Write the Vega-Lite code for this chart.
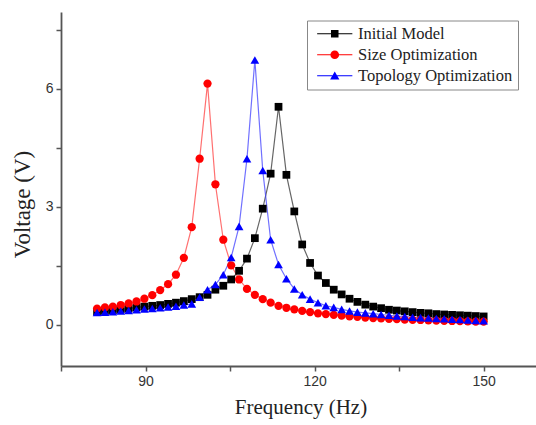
{
  "$schema": "https://vega.github.io/schema/vega-lite/v6.json",
  "width": 479,
  "height": 354,
  "autosize": {"type": "none"},
  "padding": {"left": 61, "top": 12, "right": 0, "bottom": 59},
  "background": "white",
  "data": {"values": [
    {"s":"Initial Model","f":81.4,"v":0.33},{"s":"Initial Model","f":82.8,"v":0.35},{"s":"Initial Model","f":84.2,"v":0.37},{"s":"Initial Model","f":85.6,"v":0.39},{"s":"Initial Model","f":87.0,"v":0.41},{"s":"Initial Model","f":88.4,"v":0.44},{"s":"Initial Model","f":89.8,"v":0.46},{"s":"Initial Model","f":91.2,"v":0.48},{"s":"Initial Model","f":92.6,"v":0.50},{"s":"Initial Model","f":94.0,"v":0.53},
    {"s":"Initial Model","f":95.4,"v":0.56},{"s":"Initial Model","f":96.8,"v":0.60},{"s":"Initial Model","f":98.2,"v":0.65},{"s":"Initial Model","f":99.6,"v":0.70},{"s":"Initial Model","f":101.0,"v":0.76},{"s":"Initial Model","f":102.4,"v":0.89},{"s":"Initial Model","f":103.8,"v":0.99},{"s":"Initial Model","f":105.2,"v":1.15},{"s":"Initial Model","f":106.6,"v":1.37},{"s":"Initial Model","f":108.0,"v":1.68},
    {"s":"Initial Model","f":109.4,"v":2.20},{"s":"Initial Model","f":110.8,"v":2.95},{"s":"Initial Model","f":112.2,"v":3.84},{"s":"Initial Model","f":113.6,"v":5.54},{"s":"Initial Model","f":115.0,"v":3.81},{"s":"Initial Model","f":116.4,"v":2.88},{"s":"Initial Model","f":117.8,"v":2.04},{"s":"Initial Model","f":119.2,"v":1.57},{"s":"Initial Model","f":120.6,"v":1.25},{"s":"Initial Model","f":122.0,"v":1.06},
    {"s":"Initial Model","f":123.4,"v":0.89},{"s":"Initial Model","f":124.8,"v":0.77},{"s":"Initial Model","f":126.2,"v":0.66},{"s":"Initial Model","f":127.6,"v":0.58},{"s":"Initial Model","f":129.0,"v":0.51},{"s":"Initial Model","f":130.4,"v":0.46},{"s":"Initial Model","f":131.8,"v":0.42},{"s":"Initial Model","f":133.2,"v":0.38},{"s":"Initial Model","f":134.6,"v":0.36},{"s":"Initial Model","f":136.0,"v":0.34},
    {"s":"Initial Model","f":137.4,"v":0.32},{"s":"Initial Model","f":138.8,"v":0.30},{"s":"Initial Model","f":140.2,"v":0.29},{"s":"Initial Model","f":141.6,"v":0.27},{"s":"Initial Model","f":143.0,"v":0.26},{"s":"Initial Model","f":144.4,"v":0.25},{"s":"Initial Model","f":145.8,"v":0.24},{"s":"Initial Model","f":147.2,"v":0.23},{"s":"Initial Model","f":148.6,"v":0.22},{"s":"Initial Model","f":150.0,"v":0.21},
    {"s":"Size Optimization","f":81.4,"v":0.41},{"s":"Size Optimization","f":82.8,"v":0.44},{"s":"Size Optimization","f":84.2,"v":0.46},{"s":"Size Optimization","f":85.6,"v":0.50},{"s":"Size Optimization","f":87.0,"v":0.54},{"s":"Size Optimization","f":88.4,"v":0.59},{"s":"Size Optimization","f":89.8,"v":0.66},{"s":"Size Optimization","f":91.2,"v":0.75},{"s":"Size Optimization","f":92.6,"v":0.88},{"s":"Size Optimization","f":94.0,"v":1.03},
    {"s":"Size Optimization","f":95.4,"v":1.27},{"s":"Size Optimization","f":96.8,"v":1.70},{"s":"Size Optimization","f":98.2,"v":2.48},{"s":"Size Optimization","f":99.6,"v":4.22},{"s":"Size Optimization","f":101.0,"v":6.13},{"s":"Size Optimization","f":102.4,"v":3.57},{"s":"Size Optimization","f":103.8,"v":2.16},{"s":"Size Optimization","f":105.2,"v":1.51},{"s":"Size Optimization","f":106.6,"v":1.15},{"s":"Size Optimization","f":108.0,"v":0.91},
    {"s":"Size Optimization","f":109.4,"v":0.76},{"s":"Size Optimization","f":110.8,"v":0.65},{"s":"Size Optimization","f":112.2,"v":0.56},{"s":"Size Optimization","f":113.6,"v":0.48},{"s":"Size Optimization","f":115.0,"v":0.43},{"s":"Size Optimization","f":116.4,"v":0.39},{"s":"Size Optimization","f":117.8,"v":0.35},{"s":"Size Optimization","f":119.2,"v":0.32},{"s":"Size Optimization","f":120.6,"v":0.29},{"s":"Size Optimization","f":122.0,"v":0.27},
    {"s":"Size Optimization","f":123.4,"v":0.25},{"s":"Size Optimization","f":124.8,"v":0.23},{"s":"Size Optimization","f":126.2,"v":0.21},{"s":"Size Optimization","f":127.6,"v":0.20},{"s":"Size Optimization","f":129.0,"v":0.18},{"s":"Size Optimization","f":130.4,"v":0.17},{"s":"Size Optimization","f":131.8,"v":0.16},{"s":"Size Optimization","f":133.2,"v":0.15},{"s":"Size Optimization","f":134.6,"v":0.14},{"s":"Size Optimization","f":136.0,"v":0.13},
    {"s":"Size Optimization","f":137.4,"v":0.125},{"s":"Size Optimization","f":138.8,"v":0.12},{"s":"Size Optimization","f":140.2,"v":0.11},{"s":"Size Optimization","f":141.6,"v":0.105},{"s":"Size Optimization","f":143.0,"v":0.10},{"s":"Size Optimization","f":144.4,"v":0.095},{"s":"Size Optimization","f":145.8,"v":0.09},{"s":"Size Optimization","f":147.2,"v":0.085},{"s":"Size Optimization","f":148.6,"v":0.08},{"s":"Size Optimization","f":150.0,"v":0.08},
    {"s":"Topology Optimization","f":81.4,"v":0.31},{"s":"Topology Optimization","f":82.8,"v":0.32},{"s":"Topology Optimization","f":84.2,"v":0.33},{"s":"Topology Optimization","f":85.6,"v":0.35},{"s":"Topology Optimization","f":87.0,"v":0.36},{"s":"Topology Optimization","f":88.4,"v":0.38},{"s":"Topology Optimization","f":89.8,"v":0.40},{"s":"Topology Optimization","f":91.2,"v":0.41},{"s":"Topology Optimization","f":92.6,"v":0.43},{"s":"Topology Optimization","f":94.0,"v":0.45},
    {"s":"Topology Optimization","f":95.4,"v":0.47},{"s":"Topology Optimization","f":96.8,"v":0.50},{"s":"Topology Optimization","f":98.2,"v":0.53},{"s":"Topology Optimization","f":99.6,"v":0.70},{"s":"Topology Optimization","f":101.0,"v":0.89},{"s":"Topology Optimization","f":102.4,"v":1.02},{"s":"Topology Optimization","f":103.8,"v":1.27},{"s":"Topology Optimization","f":105.2,"v":1.71},{"s":"Topology Optimization","f":106.6,"v":2.50},{"s":"Topology Optimization","f":108.0,"v":4.22},
    {"s":"Topology Optimization","f":109.4,"v":6.73},{"s":"Topology Optimization","f":110.8,"v":3.92},{"s":"Topology Optimization","f":112.2,"v":2.16},{"s":"Topology Optimization","f":113.6,"v":1.53},{"s":"Topology Optimization","f":115.0,"v":1.17},{"s":"Topology Optimization","f":116.4,"v":0.91},{"s":"Topology Optimization","f":117.8,"v":0.76},{"s":"Topology Optimization","f":119.2,"v":0.65},{"s":"Topology Optimization","f":120.6,"v":0.56},{"s":"Topology Optimization","f":122.0,"v":0.48},
    {"s":"Topology Optimization","f":123.4,"v":0.44},{"s":"Topology Optimization","f":124.8,"v":0.39},{"s":"Topology Optimization","f":126.2,"v":0.35},{"s":"Topology Optimization","f":127.6,"v":0.32},{"s":"Topology Optimization","f":129.0,"v":0.30},{"s":"Topology Optimization","f":130.4,"v":0.28},{"s":"Topology Optimization","f":131.8,"v":0.26},{"s":"Topology Optimization","f":133.2,"v":0.24},{"s":"Topology Optimization","f":134.6,"v":0.22},{"s":"Topology Optimization","f":136.0,"v":0.21},
    {"s":"Topology Optimization","f":137.4,"v":0.19},{"s":"Topology Optimization","f":138.8,"v":0.18},{"s":"Topology Optimization","f":140.2,"v":0.17},{"s":"Topology Optimization","f":141.6,"v":0.16},{"s":"Topology Optimization","f":143.0,"v":0.15},{"s":"Topology Optimization","f":144.4,"v":0.14},{"s":"Topology Optimization","f":145.8,"v":0.13},{"s":"Topology Optimization","f":147.2,"v":0.12},{"s":"Topology Optimization","f":148.6,"v":0.11},{"s":"Topology Optimization","f":150.0,"v":0.10}
  ]},
  "encoding": {
    "x": {
      "field": "f", "type": "quantitative",
      "scale": {"domain": [75, 160], "nice": false, "zero": false},
      "axis": {"values": [75, 90, 105, 120, 135, 150], "labelExpr": "datum.value % 30 == 0 ? datum.label : ''", "title": "Frequency (Hz)", "grid": false, "tickSize": 5, "labelPadding": 3, "titlePadding": 8, "titleFontSize": 21}
    },
    "y": {
      "field": "v", "type": "quantitative",
      "scale": {"domain": [-1.05, 7.95], "nice": false, "zero": false},
      "axis": {"values": [0, 1.5, 3, 4.5, 6, 7.5], "labelExpr": "datum.value % 3 == 0 ? datum.label : ''", "title": "Voltage (V)", "grid": false, "tickSize": 5, "labelPadding": 3, "titlePadding": 11, "titleY": 192, "titleFontSize": 23}
    }
  },
  "layer": [
    {
      "mark": {"type": "line", "strokeWidth": 1.2, "opacity": 0.75},
      "encoding": {
        "color": {"field": "s", "type": "nominal", "scale": {"domain": ["Initial Model", "Size Optimization", "Topology Optimization"], "range": ["#333333", "#ff4040", "#4040ff"]}, "legend": null}
      }
    },
    {
      "mark": {"type": "point", "filled": true, "opacity": 1},
      "encoding": {
        "color": {"field": "s", "type": "nominal", "scale": {"domain": ["Initial Model", "Size Optimization", "Topology Optimization"], "range": ["#000000", "#ff0000", "#0000ff"]}, "legend": null},
        "shape": {"field": "s", "type": "nominal", "scale": {"domain": ["Initial Model", "Size Optimization", "Topology Optimization"], "range": ["square", "circle", "triangle-up"]}, "legend": null},
        "size": {"field": "s", "type": "nominal", "scale": {"domain": ["Initial Model", "Size Optimization", "Topology Optimization"], "range": [60, 76, 88]}, "legend": null}
      }
    },
    {
      "transform": [{"filter": "datum.f < 0"}],
      "mark": {"type": "point", "filled": true, "opacity": 1},
      "encoding": {
        "color": {"field": "s", "type": "nominal", "scale": {"domain": ["Initial Model", "Size Optimization", "Topology Optimization"], "range": ["#000000", "#ff0000", "#0000ff"]}, "legend": {"orient": "none", "legendX": 246, "legendY": 8.5, "title": null}},
        "shape": {"field": "s", "type": "nominal", "scale": {"domain": ["Initial Model", "Size Optimization", "Topology Optimization"], "range": [
          "M-4.4,-0.15H-0.93V0.15H-4.4ZM0.93,-0.15H4.4V0.15H0.93ZM-0.94,-0.94H0.94V0.94H-0.94Z",
          "M-4.4,-0.15H-1.0V0.15H-4.4ZM1.0,-0.15H4.4V0.15H1.0ZM-1.09,0A1.09,1.09 0 1,1 1.09,0A1.09,1.09 0 1,1 -1.09,0Z",
          "M-4.4,-0.15H-0.6V0.15H-4.4ZM0.6,-0.15H4.4V0.15H0.6ZM0,-1.05L1.16,0.95L-1.16,0.95Z"
        ]}, "legend": {"orient": "none", "legendX": 246, "legendY": 8.5, "title": null}}
      }
    }
  ],
  "resolve": {"scale": {"color": "independent", "shape": "independent", "size": "independent"}},
  "config": {
    "view": {"stroke": null},
    "font": "Liberation Sans",
    "axis": {"domainColor": "#555555", "domainWidth": 1.8, "tickColor": "#555555", "tickWidth": 1.5, "labelFont": "Liberation Sans", "labelFontSize": 14, "labelColor": "#333333", "titleFont": "Liberation Serif", "titleFontWeight": "normal", "titleColor": "#222222"},
    "legend": {"padding": 5, "strokeColor": "#888888", "fillColor": "#ffffff", "labelFont": "Liberation Serif", "labelFontSize": 16.5, "labelColor": "#222222", "symbolOffset": 14.5, "labelOffset": 15, "rowPadding": 4, "symbolSize": 64, "symbolStrokeWidth": 0, "symbolOpacity": 1, "cornerRadius": 0}
  }
}
